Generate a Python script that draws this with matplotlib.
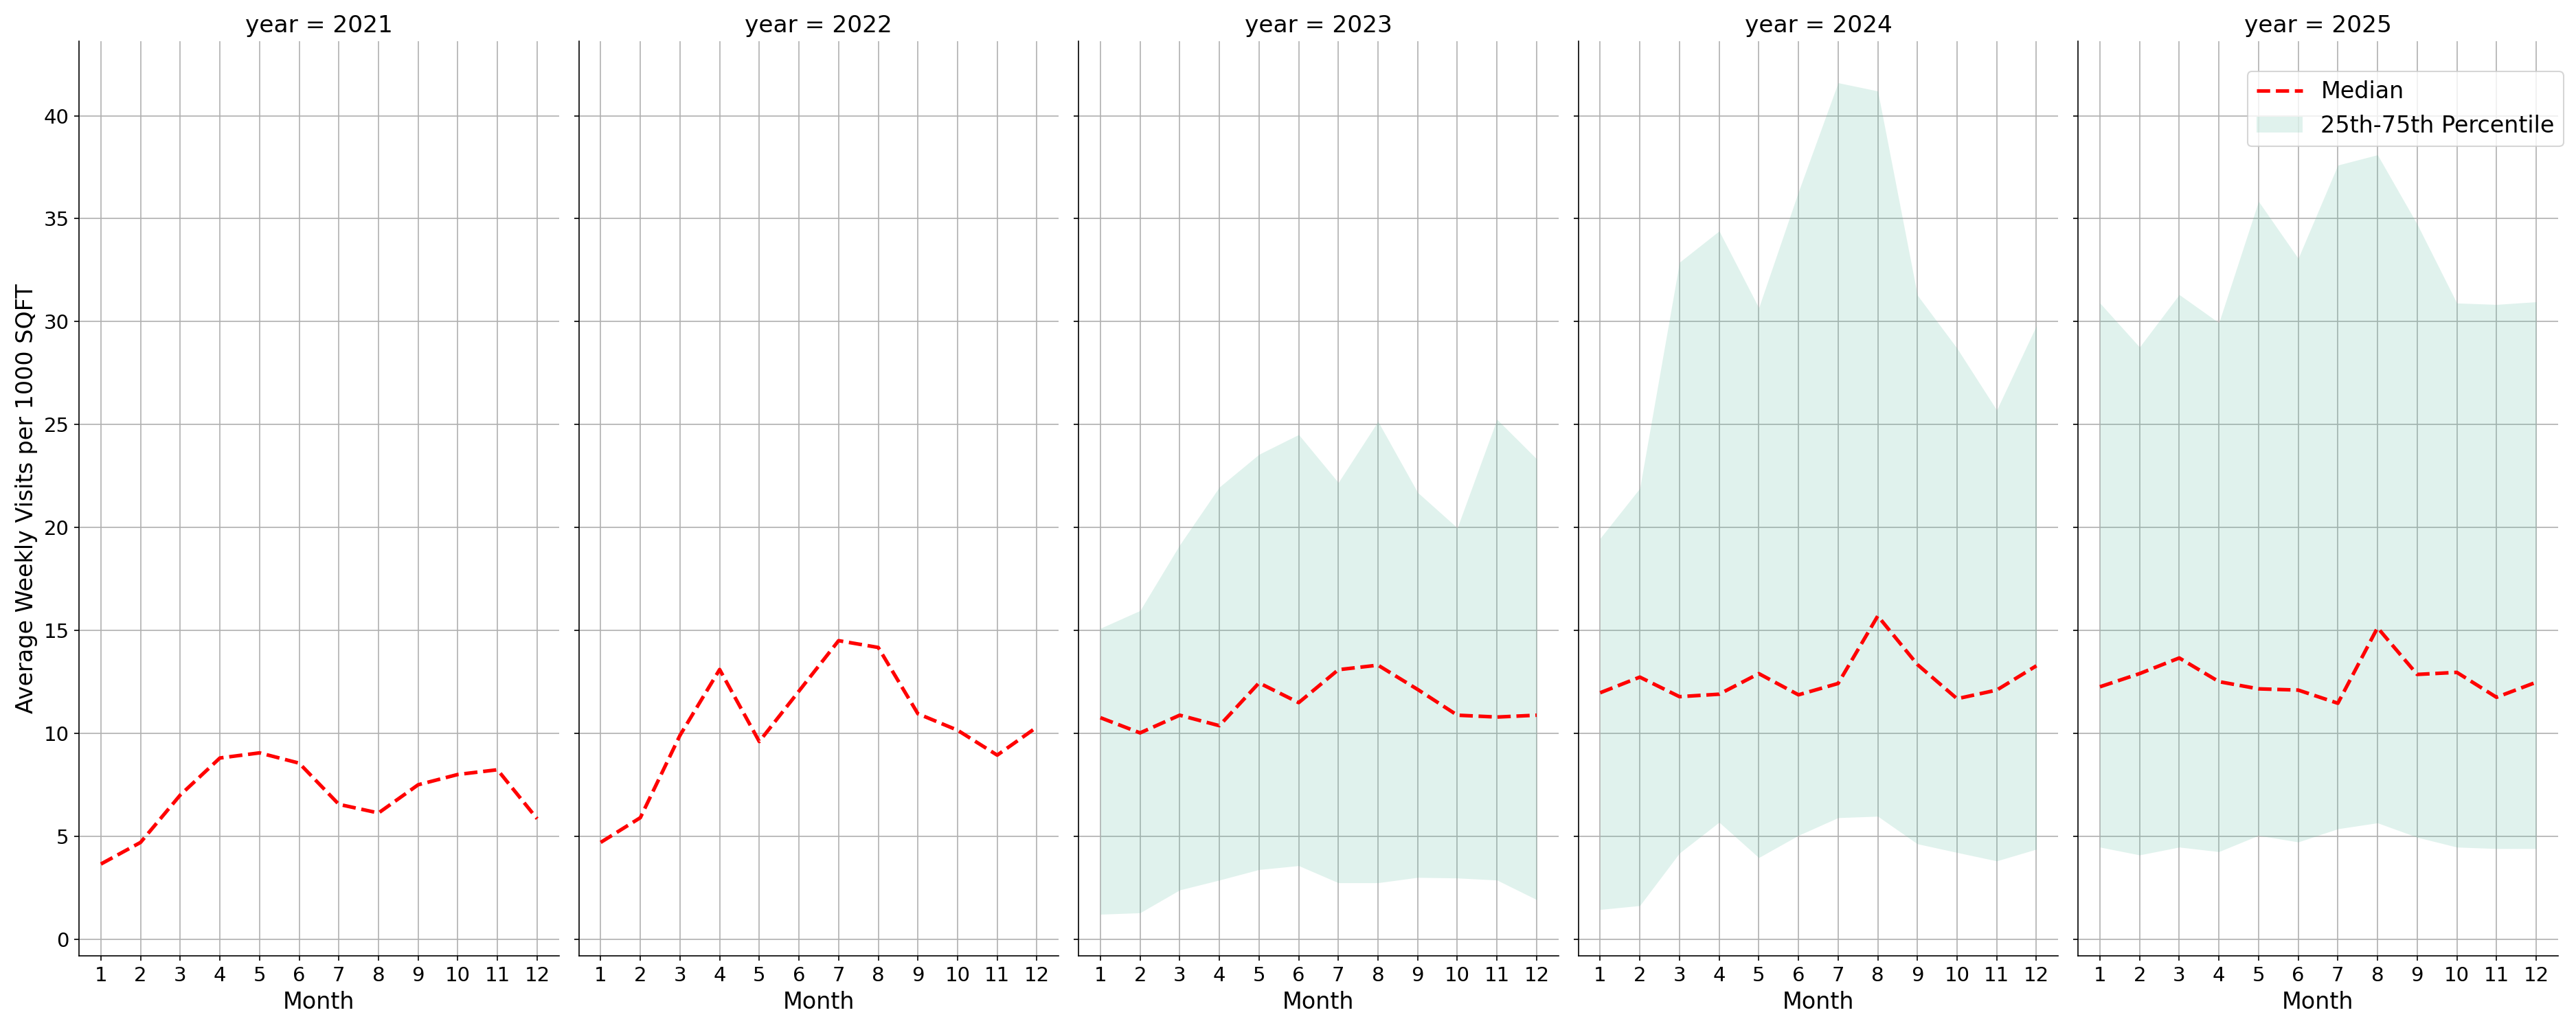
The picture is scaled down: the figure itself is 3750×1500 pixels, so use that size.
import matplotlib
matplotlib.use("Agg")
import matplotlib.pyplot as plt
import numpy as np

years = [2021, 2022, 2023, 2024, 2025]
months = list(range(1, 13))

median_2021 = [3.65, 4.7, 7.0, 8.8, 9.05, 8.55, 6.55, 6.13, 7.5, 8.0, 8.23, 5.85]
median_2022 = [4.7, 5.9, 9.9, 13.1, 9.6, 12.05, 14.5, 14.17, 10.95, 10.15, 8.94, 10.3]
median_2023 = [10.76, 10.02, 10.88, 10.37, 12.45, 11.49, 13.09, 13.31, 12.13, 10.88, 10.79, 10.88]
median_2024 = [11.97, 12.73, 11.78, 11.9, 12.9, 11.87, 12.42, 15.7, 13.34, 11.68, 12.1, 13.28]
median_2025 = [12.26, 12.9, 13.66, 12.51, 12.16, 12.1, 11.46, 15.13, 12.86, 12.96, 11.75, 12.48]

p75_2023 = [15.1, 15.96, 19.15, 21.96, 23.55, 24.51, 22.18, 25.15, 21.7, 19.98, 25.25, 23.33]
p25_2023 = [1.21, 1.28, 2.39, 2.87, 3.38, 3.57, 2.74, 2.74, 3.0, 2.97, 2.87, 1.92]
p75_2024 = [19.47, 21.9, 32.88, 34.4, 30.67, 36.3, 41.6, 41.2, 31.28, 28.7, 25.7, 29.8]
p25_2024 = [1.44, 1.63, 4.18, 5.68, 3.96, 5.04, 5.9, 5.97, 4.63, 4.21, 3.8, 4.37]
p75_2025 = [30.9, 28.76, 31.31, 29.94, 35.84, 33.07, 37.6, 38.1, 34.73, 30.9, 30.83, 30.96]
p25_2025 = [4.47, 4.09, 4.47, 4.25, 5.04, 4.72, 5.36, 5.65, 4.95, 4.47, 4.4, 4.4]

medians = {2021: median_2021, 2022: median_2022, 2023: median_2023,
           2024: median_2024, 2025: median_2025}
p25 = {2023: p25_2023, 2024: p25_2024, 2025: p25_2025}
p75 = {2023: p75_2023, 2024: p75_2024, 2025: p75_2025}

fig, axes = plt.subplots(1, 5, figsize=(25, 10), dpi=150, sharey=True)
fig.subplots_adjust(left=0.0307, right=0.993, top=0.96, bottom=0.072, wspace=0.0415)

for ax, yr in zip(axes, years):
    ax.set_axisbelow(True)
    ax.grid(True, color="#b0b0b0", linewidth=0.8)
    ax.plot(months, medians[yr], color="red", linestyle="--", linewidth=2.5, label="Median")
    if yr in p25:
        ax.fill_between(months, p25[yr], p75[yr], color="#66c2a5", alpha=0.2,
                        linewidth=0, label="25th-75th Percentile")
    ax.set_title(f"year = {yr}", fontsize=16.5)
    ax.set_xlabel("Month", fontsize=16)
    ax.set_xticks(months)
    ax.tick_params(labelsize=14)
    for s in ["top", "right"]:
        ax.spines[s].set_visible(False)

axes[0].set_ylabel("Average Weekly Visits per 1000 SQFT", fontsize=16)
axes[-1].legend(loc="upper right", fontsize=16, bbox_to_anchor=(0.9952, 0.9307),
                bbox_transform=fig.transFigure, borderaxespad=0)

fig.savefig("out.png", dpi=150)
